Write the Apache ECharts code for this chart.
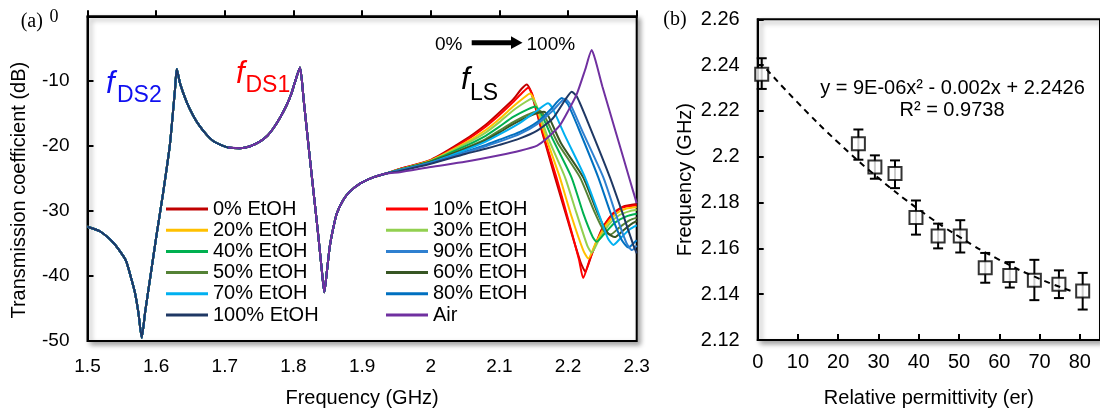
<!DOCTYPE html>
<html><head><meta charset="utf-8">
<script src="https://cdn.jsdelivr.net/npm/echarts@6/dist/echarts.min.js"></script>
<style>html,body{margin:0;padding:0;background:#fff}#c{width:1100px;height:413px}</style>
</head><body><div id="c"></div>
<script>
// ---------- Panel (a) data ----------
const SERIES_NAMES = ['0% EtOH','10% EtOH','20% EtOH','30% EtOH','40% EtOH','50% EtOH','60% EtOH','70% EtOH','80% EtOH','90% EtOH','100% EtOH','Air'];
const SERIES_COLORS = ['#C00000','#FF0000','#FFC000','#92D050','#00B050','#548235','#375623','#00B0F0','#0070C0','#2F80D0','#1F3864','#7030A0'];
const LEGEND_COL1 = ['0% EtOH','20% EtOH','40% EtOH','50% EtOH','70% EtOH','100% EtOH'];
const LEGEND_COL2 = ['10% EtOH','30% EtOH','90% EtOH','60% EtOH','80% EtOH','Air'];

// shared part of every curve (1.5 - 1.935 GHz)
const BASE_FREQ = [1.500,1.518,1.538,1.552,1.557,1.564,1.569,1.574,1.579,1.584,1.591,1.601,1.610,1.620,1.6275,1.630,1.635,1.6445,1.654,1.664,1.674,1.683,1.694,1.705,1.722,1.737,1.751,1.762,1.771,1.780,1.790,1.797,1.802,1.8095,1.815,1.822,1.829,1.836,1.8415,1.845,1.8485,1.853,1.858,1.863,1.8725,1.882,1.898,1.916,1.935];
const BASE_DB   = [-32.4,-33.1,-34.9,-36.9,-37.9,-40.5,-42.5,-45.5,-49.5,-45.5,-40.5,-33.4,-27.3,-19.8,-11.2,-8.1,-10.4,-13.2,-15.3,-17.0,-18.3,-19.2,-19.8,-20.2,-20.3,-20.0,-19.3,-18.4,-17.2,-15.7,-13.7,-11.9,-10.2,-7.9,-13.0,-20.0,-26.8,-33.6,-39.3,-42.5,-39.5,-35.4,-32.6,-30.4,-28.3,-27.0,-25.7,-24.8,-24.2];
const AIR_START = 1.705;

// f_LS region per series [GHz, dB]
const LS_0   = [[1.955,-23.5],[2.0,-22.1],[2.05,-19.0],[2.08,-16.7],[2.1,-14.8],[2.12,-12.8],[2.132,-11.2],[2.140,-10.5],[2.146,-11.6],[2.16,-17.0],[2.181,-24.8],[2.2,-31.6],[2.218,-37.8],[2.225,-39.3],[2.235,-36.5],[2.25,-32.6],[2.265,-30.4],[2.28,-29.3],[2.3,-28.9]];
const LS_10  = [[1.955,-23.5],[2.0,-22.2],[2.05,-19.2],[2.08,-17.0],[2.1,-15.2],[2.12,-13.2],[2.134,-11.7],[2.142,-11.0],[2.148,-12.0],[2.162,-17.5],[2.183,-24.8],[2.2,-31.2],[2.216,-37.5],[2.222,-40.3],[2.232,-37.3],[2.248,-33.3],[2.262,-30.8],[2.278,-29.5],[2.3,-29.1]];
const LS_20  = [[1.955,-23.6],[2.0,-22.2],[2.05,-19.5],[2.08,-17.5],[2.1,-15.8],[2.12,-13.9],[2.136,-12.5],[2.1446,-11.9],[2.151,-12.9],[2.165,-17.8],[2.188,-24.8],[2.205,-30.8],[2.222,-36.0],[2.2295,-37.3],[2.24,-35.0],[2.255,-32.2],[2.27,-30.4],[2.285,-29.6],[2.3,-29.4]];
const LS_30  = [[1.955,-23.6],[2.0,-22.3],[2.05,-19.7],[2.08,-17.9],[2.1,-16.3],[2.12,-14.5],[2.138,-13.2],[2.147,-12.7],[2.154,-13.7],[2.17,-18.5],[2.1956,-24.8],[2.212,-30.2],[2.228,-35.3],[2.2345,-36.4],[2.245,-34.4],[2.26,-32.0],[2.275,-30.6],[2.29,-30.0],[2.3,-29.8]];
const LS_40  = [[1.955,-23.6],[2.0,-22.3],[2.05,-20.0],[2.08,-18.4],[2.1,-17.0],[2.12,-15.5],[2.142,-14.3],[2.152,-13.9],[2.16,-14.8],[2.178,-19.0],[2.205,-24.8],[2.222,-30.3],[2.236,-34.0],[2.2417,-34.7],[2.252,-33.6],[2.268,-31.8],[2.285,-30.8],[2.3,-30.4]];
const LS_50  = [[1.955,-23.7],[2.0,-22.4],[2.05,-20.3],[2.08,-18.9],[2.1,-17.6],[2.12,-16.3],[2.145,-15.0],[2.159,-14.6],[2.166,-15.4],[2.185,-19.5],[2.2174,-24.8],[2.238,-30.0],[2.252,-33.0],[2.262,-33.6],[2.275,-32.5],[2.29,-31.4],[2.3,-31.0]];
const LS_60  = [[1.955,-23.7],[2.0,-22.4],[2.05,-20.4],[2.08,-19.1],[2.1,-17.9],[2.12,-16.6],[2.15,-15.1],[2.165,-14.7],[2.172,-15.5],[2.19,-19.6],[2.222,-24.8],[2.243,-30.3],[2.258,-33.4],[2.268,-34.0],[2.28,-33.0],[2.292,-32.0],[2.3,-31.5]];
const LS_70  = [[1.955,-23.7],[2.0,-22.5],[2.05,-20.6],[2.08,-19.3],[2.1,-18.2],[2.13,-16.4],[2.155,-14.5],[2.171,-13.4],[2.178,-14.3],[2.196,-18.5],[2.2247,-24.8],[2.245,-30.5],[2.258,-34.2],[2.266,-35.2],[2.278,-34.0],[2.29,-32.8],[2.3,-32.2]];
const LS_80  = [[1.955,-23.7],[2.0,-22.6],[2.05,-20.9],[2.08,-19.8],[2.1,-19.0],[2.13,-17.8],[2.155,-16.3],[2.175,-14.3],[2.191,-12.6],[2.2,-13.6],[2.215,-17.2],[2.244,-24.8],[2.262,-30.3],[2.278,-34.4],[2.288,-35.6],[2.295,-35.0],[2.3,-34.5]];
const LS_90  = [[1.955,-23.7],[2.0,-22.6],[2.05,-21.0],[2.08,-20.0],[2.1,-19.3],[2.13,-18.1],[2.155,-16.6],[2.178,-14.5],[2.1956,-12.7],[2.204,-13.7],[2.22,-17.5],[2.2514,-24.8],[2.27,-30.6],[2.285,-34.9],[2.293,-36.0],[2.3,-35.3]];
const LS_100 = [[1.955,-23.8],[2.0,-22.7],[2.05,-21.2],[2.08,-20.4],[2.1,-19.8],[2.13,-18.8],[2.155,-17.6],[2.178,-15.7],[2.195,-13.0],[2.2053,-11.6],[2.213,-12.4],[2.23,-16.6],[2.261,-24.8],[2.28,-30.5],[2.295,-35.2],[2.3,-36.5]];
const LS_AIR = [[1.955,-24.0],[2.0,-23.2],[2.05,-22.4],[2.1,-21.4],[2.13,-20.7],[2.155,-19.9],[2.17,-18.7],[2.188,-16.8],[2.2,-14.6],[2.213,-11.9],[2.225,-8.2],[2.2345,-5.2],[2.24,-6.8],[2.25,-10.8],[2.27,-18.0],[2.29,-25.2],[2.3,-28.8]];
const LS_ALL = [LS_0,LS_10,LS_20,LS_30,LS_40,LS_50,LS_60,LS_70,LS_80,LS_90,LS_100,LS_AIR];

// ---------- Panel (b) data ----------
const PERM    = [1, 25, 29.1, 34.1, 39.3, 44.8, 50.3, 56.5, 62.6, 68.7, 74.8, 80.7];
const FREQ_B  = [2.236, 2.2057, 2.1955, 2.1927, 2.1735, 2.1654, 2.1654, 2.1515, 2.1482, 2.1461, 2.1443, 2.1414];
const ERR_HI  = [2.243, 2.2119, 2.2006, 2.1984, 2.1809, 2.1708, 2.1723, 2.158, 2.154, 2.155, 2.1504, 2.1493];
const ERR_LO  = [2.2296, 2.1987, 2.1904, 2.1863, 2.166, 2.160, 2.1582, 2.145, 2.1429, 2.1374, 2.1383, 2.1333];
const TREND_X = [2.2, 10, 20, 30, 40, 50, 60, 70, 78];
const TREND_Y = [2.2382, 2.2235, 2.2062, 2.1907, 2.1770, 2.1651, 2.1550, 2.1467, 2.1413];

const SANS = '"Liberation Sans", Arial, sans-serif';
const SERIF = '"Liberation Serif", "Times New Roman", serif';

const baseData = BASE_FREQ.map((f, i) => [f, BASE_DB[i]]);
const lineSeries = SERIES_NAMES.map((name, i) => {
  const start = name === 'Air' ? baseData.filter(p => p[0] >= AIR_START) : baseData;
  return {
    name, type: 'line', xAxisIndex: 0, yAxisIndex: 0,
    data: start.concat(LS_ALL[i]),
    showSymbol: false, symbol: 'none', smooth: 0.2,
    lineStyle: { width: 2, color: SERIES_COLORS[i] },
    itemStyle: { color: SERIES_COLORS[i] },
    z: 2 + i
  };
});

const chart = echarts.init(document.getElementById('c'), null, { renderer: 'canvas' });
const legendCommon = {
  orient: 'vertical', padding: 0, itemWidth: 42, itemHeight: 3, itemGap: 1.2, icon: 'rect',
  selectedMode: false,
  textStyle: { fontSize: 20, fontFamily: SANS, color: '#000', lineHeight: 20 }
};
const gridCommon = {
  show: true, backgroundColor: '#fff', borderColor: '#000', borderWidth: 2,
  shadowColor: 'rgba(0,0,0,0.35)', shadowBlur: 5, shadowOffsetX: 3, shadowOffsetY: 3
};
const axisCommon = {
  axisLine: { show: true, lineStyle: { color: '#000', width: 2 } },
  axisTick: { show: true, inside: true, length: 6, lineStyle: { color: '#000', width: 2 } },
  splitLine: { show: false }
};

chart.setOption({
  animation: false,
  backgroundColor: '#fff',
  grid: [
    Object.assign({ left: 87.5, right: 463.3, top: 16.3, bottom: 66.7 }, gridCommon),
    Object.assign({ left: 757.7, right: -7.3, top: 19.3, bottom: 65 }, gridCommon)
  ],
  legend: [
    Object.assign({ data: LEGEND_COL1, left: 166, top: 199 }, legendCommon),
    Object.assign({ data: LEGEND_COL2, left: 386, top: 199 }, legendCommon)
  ],
  xAxis: [
    Object.assign({
      gridIndex: 0, type: 'value', min: 1.5, max: 2.3, interval: 0.1,
      name: 'Frequency (GHz)', nameLocation: 'middle', nameGap: 47,
      nameTextStyle: { fontSize: 20, fontFamily: SANS, color: '#000' },
      axisLabel: { fontSize: 19, fontFamily: SANS, color: '#000', margin: 16,
        formatter: v => String(parseFloat(v.toFixed(1))) }
    }, axisCommon),
    Object.assign({
      gridIndex: 1, type: 'value', min: 0, max: 85, interval: 10,
      name: 'Relative permittivity (er)', nameLocation: 'middle', nameGap: 48,
      nameTextStyle: { fontSize: 20, fontFamily: SANS, color: '#000' },
      axisLabel: { fontSize: 20, fontFamily: SANS, color: '#000', margin: 12, showMaxLabel: false,
        formatter: v => (v % 10 === 0 ? String(v) : '') }
    }, axisCommon)
  ],
  yAxis: [
    Object.assign({
      gridIndex: 0, type: 'value', min: -50, max: 0, interval: 10,
      name: 'Transmission coefficient (dB)', nameLocation: 'middle', nameGap: 58,
      nameTextStyle: { fontSize: 20, fontFamily: SANS, color: '#000', padding: [0, 23, 0, 0] },
      axisLabel: { fontSize: 19, fontFamily: SANS, color: '#000', margin: 18,
        formatter: v => (v === 0 ? '' : String(v)) }
    }, axisCommon),
    Object.assign({
      gridIndex: 1, type: 'value', min: 2.12, max: 2.26, interval: 0.02,
      name: 'Frequency (GHz)', nameLocation: 'middle', nameGap: 62,
      nameTextStyle: { fontSize: 20, fontFamily: SANS, color: '#000' },
      axisLabel: { fontSize: 20, fontFamily: SANS, color: '#000', margin: 18,
        formatter: v => String(parseFloat(v.toFixed(2))) }
    }, axisCommon)
  ],
  series: lineSeries.concat([
    {
      name: 'error', type: 'custom', xAxisIndex: 1, yAxisIndex: 1, z: 20,
      data: PERM.map((x, i) => [x, ERR_LO[i], ERR_HI[i]]),
      encode: { x: 0, y: [1, 2] },
      renderItem: function (params, api) {
        const x = api.value(0);
        const pLo = api.coord([x, api.value(1)]);
        const pHi = api.coord([x, api.value(2)]);
        const cw = 5;
        const st = { stroke: '#000', lineWidth: 2 };
        return { type: 'group', children: [
          { type: 'line', shape: { x1: pHi[0], y1: pHi[1], x2: pLo[0], y2: pLo[1] }, style: st },
          { type: 'line', shape: { x1: pHi[0] - cw, y1: pHi[1], x2: pHi[0] + cw, y2: pHi[1] }, style: st },
          { type: 'line', shape: { x1: pLo[0] - cw, y1: pLo[1], x2: pLo[0] + cw, y2: pLo[1] }, style: st }
        ]};
      }
    },
    {
      name: 'points', type: 'scatter', xAxisIndex: 1, yAxisIndex: 1, z: 21,
      data: PERM.map((x, i) => [x, FREQ_B[i]]),
      symbol: 'rect', symbolSize: 13,
      itemStyle: { color: '#fff', borderColor: '#000', borderWidth: 2 }
    },
    {
      name: 'trend', type: 'line', xAxisIndex: 1, yAxisIndex: 1, z: 22,
      data: TREND_X.map((x, i) => [x, TREND_Y[i]]),
      showSymbol: false, symbol: 'none', smooth: true,
      lineStyle: { color: '#000', width: 2, type: [6, 5] }
    }
  ]),
  graphic: [
    { type: 'text', x: 20.7, y: 22, style: { text: '(a)', font: '20px ' + SERIF, fill: '#000', align: 'left', verticalAlign: 'middle' } },
    { type: 'text', x: 54, y: 17, style: { text: '0', font: '18px ' + SERIF, fill: '#000', align: 'center', verticalAlign: 'middle' } },
    { type: 'text', x: 663.3, y: 20, style: { text: '(b)', font: '20px ' + SERIF, fill: '#000', align: 'left', verticalAlign: 'middle' } },
    // f_DS2
    { type: 'text', x: 106, y: 84, style: { text: 'f', font: 'italic 31px ' + SANS, fill: '#1010F0', align: 'left', verticalAlign: 'middle' } },
    { type: 'text', x: 117, y: 96, style: { text: 'DS2', font: '23px ' + SANS, fill: '#1010F0', align: 'left', verticalAlign: 'middle' } },
    // f_DS1
    { type: 'text', x: 236, y: 74, style: { text: 'f', font: 'italic 31px ' + SANS, fill: '#FF0000', align: 'left', verticalAlign: 'middle' } },
    { type: 'text', x: 245.5, y: 86, style: { text: 'DS1', font: '23px ' + SANS, fill: '#FF0000', align: 'left', verticalAlign: 'middle' } },
    // f_LS
    { type: 'text', x: 461, y: 80.5, style: { text: 'f', font: 'italic 31px ' + SANS, fill: '#000', align: 'left', verticalAlign: 'middle' } },
    { type: 'text', x: 470, y: 94, style: { text: 'LS', font: '23px ' + SANS, fill: '#000', align: 'left', verticalAlign: 'middle' } },
    // 0% -> 100%
    { type: 'text', x: 435, y: 44.5, style: { text: '0%', font: '19px ' + SANS, fill: '#000', align: 'left', verticalAlign: 'middle' } },
    { type: 'line', shape: { x1: 471.7, y1: 42.7, x2: 513, y2: 42.7 }, style: { stroke: '#000', lineWidth: 5 } },
    { type: 'polygon', shape: { points: [[511, 36.3], [522.5, 42.7], [511, 49.1]] }, style: { fill: '#000' } },
    { type: 'text', x: 526.5, y: 44.5, style: { text: '100%', font: '19px ' + SANS, fill: '#000', align: 'left', verticalAlign: 'middle' } },
    // equation
    { type: 'text', x: 952.5, y: 88, style: { text: 'y = 9E-06x² - 0.002x + 2.2426', font: '20px ' + SANS, fill: '#000', align: 'center', verticalAlign: 'middle' } },
    { type: 'text', x: 952, y: 110.5, style: { text: 'R² = 0.9738', font: '20px ' + SANS, fill: '#000', align: 'center', verticalAlign: 'middle' } }
  ]
});
</script></body></html>
